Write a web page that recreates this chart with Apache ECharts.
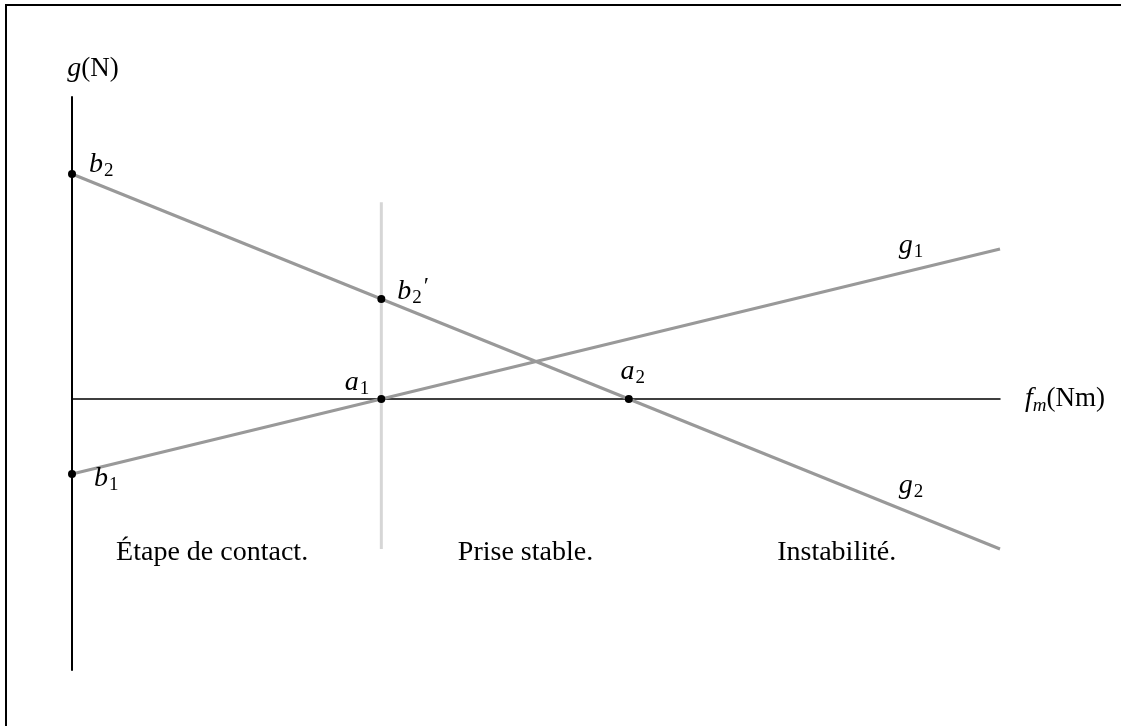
<!DOCTYPE html>
<html>
<head>
<meta charset="utf-8">
<script src="https://cdn.jsdelivr.net/npm/echarts@6/dist/echarts.min.js"></script>
<style>
  html, body { margin: 0; padding: 0; background: #fff; }
  #chart { width: 1121px; height: 726px; }
</style>
</head>
<body>
<div id="chart"></div>
<script>
// Force curves g1 and g2 (endpoints in axis units)
const g1Line = [[0, -1], [3, 2]];
const g2Line = [[0, 3], [3, -2]];
// Boundary between contact stage and stable grasp
const boundaryLine = [[1, 2.625], [1, -2]];
// Named points
const pointNames = ['b2', 'b2p', 'a1', 'a2', 'b1'];
const pointValues = [[0, 3], [1, 4 / 3], [1, 0], [1.8, 0], [0, -1]];
// Curve names and region captions
const curveNames = ['g1', 'g2'];
const curveNamePos = [[2.712, 2.05], [2.712, -1.15]];
const regionNames = ['Étape de contact.', 'Prise stable.', 'Instabilité.'];
const regionPos = [[0.453, -2.05], [1.466, -2.05], [2.472, -2.05]];

const SERIF = '"Liberation Serif", "DejaVu Serif", serif';
const rich = {
  i: { fontFamily: SERIF, fontStyle: 'italic', fontSize: 28, color: '#000' },
  s: { fontFamily: SERIF, fontSize: 19, color: '#000', padding: [13, 0, 0, 1] },
  si: { fontFamily: SERIF, fontStyle: 'italic', fontSize: 19, color: '#000', padding: [13, 0, 0, 0] },
  p: { fontFamily: SERIF, fontSize: 24, color: '#000', padding: [0, 0, 10, 2] },
  r: { fontFamily: SERIF, fontSize: 27, color: '#000' }
};

const pointText = {
  b2: '{i|b}{s|2}',
  b2p: '{i|b}{s|2}{p|′}',
  a1: '{i|a}{s|1}',
  a2: '{i|a}{s|2}',
  b1: '{i|b}{s|1}'
};
const pointLabelStyle = {
  b2: { position: 'right', offset: [8, -9] },
  b2p: { position: 'right', offset: [7, -7] },
  a1: { position: 'left', offset: [-3, -16] },
  a2: { position: 'top', offset: [4, -2] },
  b1: { position: 'right', offset: [13, 5] }
};

const chart = echarts.init(document.getElementById('chart'), null, { renderer: 'canvas' });

const option = {
  animation: false,
  backgroundColor: '#fff',
  grid: { left: 72, right: 121, top: 97, bottom: 56 },
  xAxis: {
    type: 'value', min: 0, max: 3,
    axisLine: { onZero: true, lineStyle: { color: '#000', width: 1.5 } },
    axisTick: { show: false }, axisLabel: { show: false }, splitLine: { show: false },
    name: '{i|f}{si|m}{r|(Nm)}',
    nameLocation: 'end', nameGap: 25,
    nameTextStyle: { align: 'left', verticalAlign: 'middle', rich: rich }
  },
  yAxis: {
    type: 'value', min: -3.6133, max: 4.0267,
    axisLine: { onZero: false, lineStyle: { color: '#000', width: 2 } },
    axisTick: { show: false }, axisLabel: { show: false }, splitLine: { show: false },
    name: '{i|g}{r|(N)}',
    nameLocation: 'end', nameGap: 28,
    nameTextStyle: { align: 'center', verticalAlign: 'middle', padding: [0, 0, 0, 42], rich: rich }
  },
  series: [
    {
      type: 'line', data: boundaryLine, symbol: 'none', z: 1,
      lineStyle: { color: '#d6d6d6', width: 3 }, silent: true
    },
    {
      type: 'line', data: g1Line, symbol: 'none', z: 2,
      lineStyle: { color: '#999999', width: 3 }, silent: true
    },
    {
      type: 'line', data: g2Line, symbol: 'none', z: 2,
      lineStyle: { color: '#999999', width: 3 }, silent: true
    },
    {
      type: 'scatter', z: 5, symbol: 'circle', symbolSize: 8,
      itemStyle: { color: '#000', opacity: 1 },
      data: pointNames.map((n, k) => ({
        value: pointValues[k],
        label: Object.assign({ show: true, formatter: pointText[n], rich: rich }, pointLabelStyle[n])
      })),
      silent: true
    },
    {
      type: 'scatter', z: 5, symbolSize: 0,
      itemStyle: { color: '#000', opacity: 1 },
      data: curveNames.map((n, k) => ({
        value: curveNamePos[k],
        label: {
          show: true, position: 'inside',
          formatter: '{i|' + n[0] + '}{s|' + n.slice(1) + '}', rich: rich
        }
      })),
      silent: true
    },
    {
      type: 'scatter', z: 5, symbolSize: 0,
      itemStyle: { color: '#000', opacity: 1 },
      data: regionNames.map((n, k) => ({
        value: regionPos[k],
        label: {
          show: true, position: 'inside', formatter: n,
          fontFamily: SERIF, fontSize: 28, color: '#000'
        }
      })),
      silent: true
    }
  ],
  graphic: [
    {
      type: 'polyline', silent: true,
      shape: { points: [[6, 760], [6, 5], [1160, 5]] },
      style: { stroke: '#000', lineWidth: 2, fill: null }
    }
  ]
};

chart.setOption(option);
</script>
</body>
</html>
